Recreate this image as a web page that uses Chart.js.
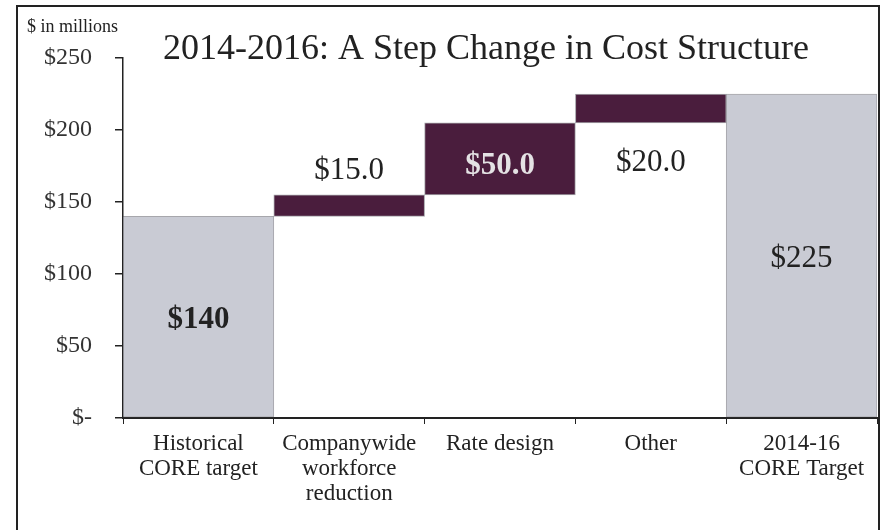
<!DOCTYPE html>
<html>
<head>
<meta charset="utf-8">
<script src="https://cdn.jsdelivr.net/npm/chart.js@4/dist/chart.umd.min.js"></script>
<style>
  html, body { margin:0; padding:0; background:#fff; }
  #wrap { position:relative; width:884px; height:530px; }
  #frame { position:absolute; left:16px; top:5px; width:864px; height:530px; border:2px solid #222; border-bottom:none; box-sizing:border-box; }
  canvas { position:absolute; left:0; top:0; }
</style>
</head>
<body>
<div id="wrap">
  <div id="frame"></div>
  <canvas id="chart" width="884" height="530"></canvas>
</div>
<script>
// values in $ millions
const categories = [
  ["Historical", "CORE target"],
  ["Companywide", "workforce", "reduction"],
  ["Rate design"],
  ["Other"],
  ["2014-16", "CORE Target"]
];
const barStart = [0, 140, 155, 205, 0];
const barEnd = [140, 155, 205, 225, 225];
const valueLabels = ["$140", "$15.0", "$50.0", "$20.0", "$225"];
const yTicks = [0, 50, 100, 150, 200, 250];
const yTickLabels = ["$-", "$50", "$100", "$150", "$200", "$250"];

const GRAY = "#c9cbd4";
const PLUM = "#4a1d3d";
const SERIF = "'Liberation Serif', 'DejaVu Serif', serif";

const barColors = ["total", "step", "step", "step", "total"].map(t => t === "total" ? GRAY : PLUM);
const labelPos = ["center", "above", "center", "below", "center"];

const textPlugin = {
  id: "texts",
  afterDatasetsDraw(chart){
    const ctx = chart.ctx;
    const meta = chart.getDatasetMeta(0);
    const y = chart.scales.y;
    ctx.save();
    ctx.textAlign = "center";
    ctx.textBaseline = "middle";
    meta.data.forEach((bar, i) => {
      let py;
      if (labelPos[i] === "above") py = y.getPixelForValue(barEnd[i]) - 24;
      else if (labelPos[i] === "below") py = y.getPixelForValue(barStart[i]) + 40;
      else py = y.getPixelForValue((barStart[i] + barEnd[i]) / 2) + (i === 2 ? 7 : 3);
      const bold = (i === 0 || i === 2) ? "bold " : "";
      ctx.font = bold + "31px " + SERIF;
      ctx.fillStyle = i === 2 ? "#e4e2e4" : "#222";
      ctx.fillText(valueLabels[i], bar.x, py);
    });
    // title + unit note
    ctx.fillStyle = "#222";
    ctx.font = "36px " + SERIF;
    ctx.fillText("2014-2016: A Step Change in Cost Structure", 486, 50);
    ctx.textAlign = "left";
    ctx.font = "18px " + SERIF;
    ctx.fillText("$ in millions", 27, 27);
    ctx.restore();
  }
};

new Chart(document.getElementById("chart"), {
  type: "bar",
  data: {
    labels: categories,
    datasets: [{
      data: barStart.map((s, i) => [s, barEnd[i]]),
      backgroundColor: barColors,
      borderColor: "rgba(80,80,90,0.5)",
      borderWidth: 1,
      borderSkipped: false,
      barPercentage: 1,
      categoryPercentage: 1
    }]
  },
  options: {
    responsive: false,
    animation: false,
    layout: { padding: { top: 58, right: 7, left: 0, bottom: 0 } },
    plugins: { legend: { display: false }, tooltip: { enabled: false } },
    scales: {
      x: {
        offset: true,
        afterFit: (s) => { s.height = 112; },
        grid: { offset: true, drawOnChartArea: false, tickLength: 6, color: "#222" },
        border: { color: "#222", width: 2 },
        ticks: {
          color: "#222",
          padding: 7,
          maxRotation: 0,
          autoSkip: false,
          font: { family: SERIF, size: 23, lineHeight: 1.1 }
        }
      },
      y: {
        min: 0,
        max: 250,
        afterFit: (s) => { s.width = 123; },
        afterBuildTicks: (s) => { s.ticks = yTicks.map(v => ({ value: v })); },
        grid: { drawOnChartArea: false, tickLength: 8, color: "#222", lineWidth: 1.5 },
        border: { color: "#222", width: 1.5 },
        ticks: {
          color: "#333",
          padding: 23,
          font: { family: SERIF, size: 24 },
          callback: (v) => yTickLabels[yTicks.indexOf(v)]
        }
      }
    }
  },
  plugins: [textPlugin]
});
</script>
</body>
</html>
